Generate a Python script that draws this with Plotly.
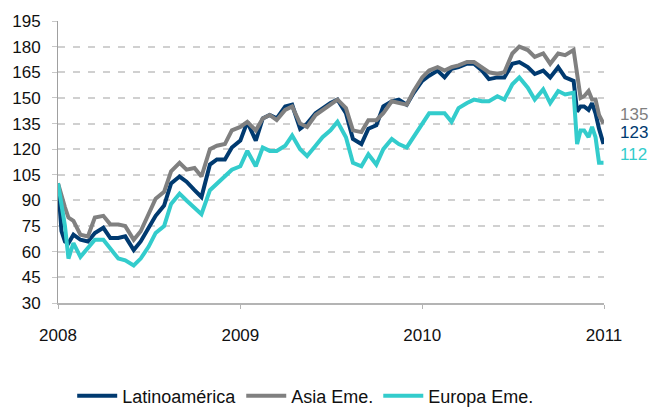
import plotly.graph_objects as go

# fechas (aprox. quincenales, semanales al final de 2010)
dates = [
    "2008-01-01", "2008-01-08", "2008-01-15", "2008-01-22", "2008-02-01", "2008-02-15",
    "2008-03-01", "2008-03-15", "2008-04-01", "2008-04-15", "2008-05-01", "2008-05-15",
    "2008-06-01", "2008-06-15", "2008-07-01", "2008-07-15", "2008-08-01", "2008-08-15",
    "2008-09-01", "2008-09-15", "2008-10-01", "2008-10-15", "2008-11-01", "2008-11-15",
    "2008-12-01", "2008-12-15",
    "2009-01-01", "2009-01-15", "2009-02-01", "2009-02-15", "2009-03-01", "2009-03-15",
    "2009-04-01", "2009-04-15", "2009-05-01", "2009-05-15", "2009-06-01", "2009-06-15",
    "2009-07-01", "2009-07-15", "2009-08-01", "2009-08-15", "2009-09-01", "2009-09-15",
    "2009-10-01", "2009-10-15", "2009-11-01", "2009-11-15", "2009-12-01", "2009-12-15",
    "2010-01-01", "2010-01-15", "2010-02-01", "2010-02-15", "2010-03-01", "2010-03-15",
    "2010-04-01", "2010-04-15", "2010-05-01", "2010-05-15", "2010-06-01", "2010-06-15",
    "2010-07-01", "2010-07-15", "2010-08-01", "2010-08-15", "2010-09-01", "2010-09-15",
    "2010-10-01", "2010-10-15", "2010-11-01", "2010-11-08", "2010-11-15", "2010-11-22",
    "2010-12-01", "2010-12-08", "2010-12-15", "2010-12-22", "2010-12-31",
]

latam = [
    100, 72, 66, 65, 70, 67, 66, 71, 74, 68, 68, 69, 61, 66, 74, 81, 87, 100, 104, 101,
    96, 92, 111, 114, 114, 121,
    125, 136, 125, 138, 140, 138, 145, 146, 132, 135, 141, 144, 147, 149, 141, 126, 123, 132,
    134, 145, 148, 149, 146, 153,
    160, 163, 166, 162, 167, 168, 170, 170, 166, 161, 162, 162, 170, 171, 168, 164, 166, 162,
    168, 162, 160, 142, 145, 145, 143, 147, 141, 132, 123,
]
asia = [
    100, 92, 86, 80, 78, 70, 69, 80, 81, 76, 76, 75, 67, 72, 82, 91, 95, 107, 112, 108,
    109, 104, 120, 122, 123, 131,
    133, 136, 131, 138, 140, 137, 143, 145, 135, 133, 140, 143, 146, 149, 144, 131, 130, 137,
    137, 141, 148, 147, 146, 154,
    162, 166, 168, 166, 168, 169, 171, 171, 168, 165, 164, 165, 176, 180, 178, 174, 176, 170,
    176, 175, 178, 162, 150, 151, 154, 149, 149, 140, 135,
]
europa = [
    100, 86, 75, 56, 65, 57, 62, 67, 67, 62, 56, 55, 52, 56, 63, 71, 75, 88, 94, 90,
    86, 82, 96, 100, 104, 108,
    110, 119, 110, 121, 119, 119, 122, 128, 120, 116, 122, 127, 131, 136, 127, 112, 110, 117,
    111, 120, 126, 123, 121, 127,
    135, 141, 141, 141, 136, 144, 147, 149, 148, 148, 151, 149, 158, 162, 156, 149, 155, 147,
    154, 152, 153, 123, 131, 131, 127, 133, 127, 112, 112,
]

names = ["Latinoamérica", "Asia Eme.", "Europa Eme."]
colors = ["#003A70", "#808080", "#33CCCC"]
series = [latam, asia, europa]

FONT = "Liberation Sans, Arial, sans-serif"

fig = go.Figure()
for name, col, vals in zip(names, colors, series):
    fig.add_trace(go.Scatter(x=dates, y=vals, name=name, mode="lines",
                             line=dict(color=col, width=4)))

# etiquetas con el último valor (desplazadas un poco hacia arriba)
for col, vals, dy in zip(colors, series, [12, 9, 8]):
    fig.add_annotation(x="2011-01-01", y=vals[-1], text=str(vals[-1]), showarrow=False,
                       xanchor="left", yanchor="middle", xshift=15, yshift=dy,
                       borderpad=0, font=dict(family=FONT, size=17, color=col))

# la página tiene 8px de margen en body: figura 658x400
fig.update_layout(
    width=658, height=400,
    margin=dict(l=50, r=62, t=13, b=105, autoexpand=False),
    paper_bgcolor="white", plot_bgcolor="white",
    font=dict(family=FONT, size=17, color="#111111"),
    showlegend=True,
    legend=dict(orientation="h", yref="container", y=0.03, yanchor="middle",
                x=0.026, xanchor="left",
                font=dict(size=18), itemwidth=40, traceorder="normal"),
)
fig.update_xaxes(
    range=["2008-01-01", "2011-01-01"], dtick="M12", tickformat="%Y",
    showline=True, linecolor="#B4B4B4", linewidth=2,
    ticks="outside", ticklen=4, tickcolor="#B4B4B4",
    ticklabelstandoff=12, automargin=False,
    showgrid=False, zeroline=False,
)
fig.update_yaxes(
    range=[30, 195], dtick=15, tick0=30,
    showline=True, linecolor="#A0A0A0", linewidth=1,
    ticks="outside", ticklen=5, tickcolor="#C8C8C8",
    ticklabelstandoff=8, automargin=False,
    showgrid=True, gridcolor="#D0D0D0", gridwidth=1.5, griddash="7px,8px",
    zeroline=False,
)

fig.write_html("out.html")
